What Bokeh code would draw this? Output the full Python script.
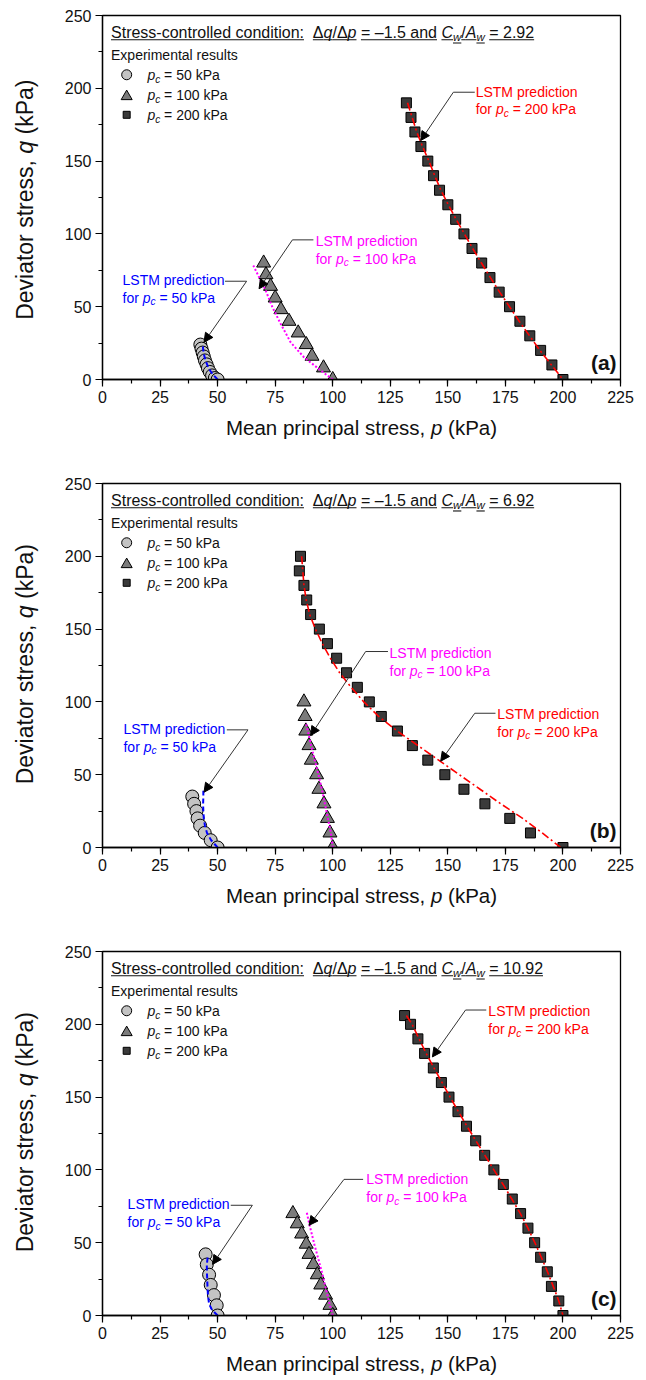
import math
from bokeh.plotting import figure
from bokeh.models import Range1d, SingleIntervalTicker, Label, Arrow, NormalHead
from bokeh.layouts import column, row
from bokeh.embed import file_html
from bokeh.resources import INLINE

FONT = "Liberation Sans"

# ---------------- data ----------------
# Panel (a): Cw/Aw = 2.92
a_exp50_p = [42.5, 43.0, 43.5, 44.0, 44.5, 45.2, 45.8, 46.6, 47.6, 48.8, 50.0]
a_exp50_q = [24.0, 21.2, 18.5, 15.8, 13.1, 10.4, 7.8, 5.2, 2.8, 1.0, 0.0]
a_lstm50_p = [50.0, 48.2, 46.8, 45.8, 45.0, 44.4, 44.0, 43.7, 43.6]
a_lstm50_q = [0.0, 3.0, 6.0, 9.0, 12.0, 15.0, 18.0, 21.0, 24.0]
a_exp100_p = [70.0, 71.0, 73.0, 75.0, 77.5, 81.0, 85.0, 88.5, 91.0, 96.0, 100.0]
a_exp100_q = [80, 72, 64, 56, 48, 40, 32, 24, 16, 8, 0]
a_lstm100_p = [100.0, 94.8, 87.5, 81.7, 77.4, 73.8, 70.9, 68.0, 65.5]
a_lstm100_q = [0.0, 6.2, 15.3, 25.6, 38.2, 49.7, 61.1, 70.3, 78.3]
a_exp200_p = [132.0, 134.0, 135.7, 138.3, 141.3, 143.8, 146.4, 150.0, 153.4, 157.0,
              160.5, 164.7, 168.3, 172.3, 176.8, 181.3, 185.6, 190.3, 195.2, 200.0]
a_exp200_q = [190, 180, 170, 160, 150, 140, 130, 120, 110, 100,
              90, 80, 70, 60, 50, 40, 30, 20, 10, 0]
a_lstm200_p = [132.5, 134.5, 136.5, 139.0, 141.8, 144.3, 147.0, 150.2, 153.6, 157.2,
               160.8, 164.6, 168.5, 172.5, 176.8, 181.0, 185.5, 190.0, 195.0, 200.0]
a_lstm200_q = a_exp200_q

# Panel (b): Cw/Aw = 6.92
b_exp50_p = [39.0, 39.8, 40.8, 41.3, 42.4, 44.4, 47.0, 50.0]
b_exp50_q = [35, 30, 25, 20, 15, 10, 5, 0]
b_lstm50_p = [50.0, 47.2, 45.4, 44.5, 44.0, 43.8, 43.7, 43.8, 43.8]
b_lstm50_q = [0, 5, 10, 15, 20, 25, 30, 35, 39]
b_exp100_p = [87.5, 88.0, 88.3, 89.7, 90.7, 93.0, 94.0, 96.2, 97.7, 98.8, 100.0]
b_exp100_q = [100, 90, 80, 70, 60, 50, 40, 30, 20, 10, 0]
b_lstm100_p = [100.0, 99.2, 97.9, 96.6, 95.3, 93.8, 92.2, 90.6, 89.2, 88.3]
b_lstm100_q = [0, 10, 20, 30, 40, 50, 60, 70, 80, 86]
b_exp200_p = [86.0, 85.5, 87.5, 88.7, 90.4, 94.2, 97.7, 101.7, 106.0, 110.7, 115.9,
              121.1, 128.1, 134.6, 141.3, 148.7, 157.0, 166.1, 176.9, 185.9, 200.0]
b_exp200_q = [200, 190, 180, 170, 160, 150, 140, 130, 120, 110, 100,
              90, 80, 70, 60, 50, 40, 30, 20, 10, 0]
b_lstm200_p = [86.5, 87.0, 87.5, 88.5, 90.0, 92.5, 95.5, 99.0, 103.0, 108.0, 113.5,
               120.0, 128.0, 137.0, 146.0, 155.0, 164.0, 173.0, 182.5, 191.0, 199.0]
b_lstm200_q = b_exp200_q

# Panel (c): Cw/Aw = 10.92
c_exp50_p = [44.8, 45.3, 46.3, 47.0, 48.4, 49.6, 50.0]
c_exp50_q = [42, 35, 28, 21, 14, 7, 0]
c_lstm50_p = [50.0, 47.5, 46.3, 45.8, 45.6, 45.4, 45.3, 45.7]
c_lstm50_q = [0, 4, 8, 14, 20, 28, 35, 40]
c_exp100_p = [82.7, 84.6, 86.5, 88.5, 89.7, 91.6, 93.3, 94.8, 96.9, 98.8, 100.0]
c_exp100_q = [70, 63, 56, 49, 42, 35, 28, 21, 14, 7, 0]
c_lstm100_p = [100.0, 98.8, 97.7, 96.6, 95.6, 94.4, 93.2, 92.0, 90.9, 89.8, 88.7]
c_lstm100_q = [0, 7, 14, 21, 28, 35, 42, 49, 56, 63, 71]
c_exp200_p = [131.2, 133.8, 137.0, 139.9, 143.7, 147.2, 150.5, 154.4, 158.1, 162.1, 166.0,
              170.0, 174.1, 178.0, 181.6, 184.8, 187.7, 190.3, 193.2, 195.0, 198.2, 200.0]
c_exp200_q = [206, 200, 190, 180, 170, 160, 150, 140, 130, 120, 110,
              100, 90, 80, 70, 60, 50, 40, 30, 20, 10, 0]
c_lstm200_p = [132.0, 134.5, 137.5, 140.6, 144.0, 147.5, 151.0, 154.6, 158.3, 162.2, 166.1,
               170.0, 174.0, 177.8, 181.5, 184.8, 187.8, 190.6, 193.3, 195.8, 198.2, 200.0]
c_lstm200_q = c_exp200_q

ratios = ["2.92", "6.92", "10.92"]
panel_tags = ["(a)", "(b)", "(c)"]
x_ticks_interval = 25
y_ticks_interval = 50

# ---------------- text helpers ----------------
W = {' ': 278, '!': 278, '(': 333, ')': 333, ',': 278, '-': 333, '.': 278, '/': 278,
     ':': 278, '=': 584, '\u2013': 556, '\u0394': 668,
     'A': 667, 'C': 722, 'D': 722, 'E': 667, 'L': 556, 'M': 833, 'P': 667, 'S': 667, 'T': 611,
     'a': 556, 'b': 556, 'c': 500, 'd': 556, 'e': 556, 'f': 278, 'g': 556, 'h': 556,
     'i': 222, 'j': 222, 'k': 500, 'l': 222, 'm': 833, 'n': 556, 'o': 556, 'p': 556,
     'q': 556, 'r': 333, 's': 500, 't': 278, 'u': 556, 'v': 500, 'w': 722, 'x': 500,
     'y': 500, 'z': 500}
BASE_FIX = 0.35  # Label draws its alphabetic baseline this many em below the anchor


def tw(s, size):
    return sum(W.get(ch, 556) for ch in s) * size / 1000.0


def rich(p, x, y, pieces, size, color, x_off=0.0, y_off=0.0, angle=0.0, underline=False):
    off = 0.0
    segs = []
    for txt, st in pieces:
        fs = size * 0.72 if st == 's' else size
        style = 'italic' if st in ('i', 's') else ('bold' if st == 'b' else 'normal')
        dy = -size * 0.2 if st == 's' else 0.0
        core = txt.strip(' ')
        lead = len(txt) - len(txt.lstrip(' '))
        trail = len(txt) - len(txt.rstrip(' '))
        off += tw(' ' * lead, fs)
        if core:
            common = dict(x=x, y=y, text=core, text_font=FONT, text_font_size=f"{fs:.1f}px",
                          text_font_style=style, text_color=color, text_align="left",
                          text_baseline="alphabetic", text_line_height=1.0)
            if angle == 0:
                lab = Label(x_offset=x_off + off, y_offset=y_off + dy + BASE_FIX * fs, **common)
            else:
                lab = Label(x_offset=x_off - BASE_FIX * fs, y_offset=y_off + off, angle=angle, **common)
            p.add_layout(lab)
            w = tw(core, fs)
            if underline:
                segs.append((off, off + w, dy - 2.0))
            off += w
        off += tw(' ' * trail, fs)
    return off, segs


FRAME_W = 518.0
FRAME_H = 364.0
KX = FRAME_W / 225.0
KY = FRAME_H / 250.0
YT_W = 40
LEFT = 102
RIGHT = 18
MAIN_BOTTOM = 30

RED, MAG, BLUE = "#ff0000", "#ff00ff", "#0000ff"

# annotation layout: (text x, first baseline y, leader start, corner, tip)
ann_layout = [
    {50: (8.7, 65.2, (53.2, 67.5), (62.6, 67.5), (44.1, 25.6)),
     100: (92.6, 92.0, (91.6, 95.9), (82.5, 95.9), (68.0, 62.3)),
     200: (162.1, 194.4, (161.7, 197.3), (152.4, 197.3), (138.2, 164.1))},
    {50: (9.1, 78.3, (54.0, 80.8), (63.2, 80.8), (44.1, 38.0)),
     100: (124.7, 130.5, (124.0, 134.6), (114.3, 134.6), (90.4, 76.9)),
     200: (171.5, 88.6, (170.7, 92.2), (161.7, 92.2), (146.9, 59.3))},
    {50: (10.9, 72.9, (55.7, 75.7), (65.1, 75.7), (47.8, 35.1)),
     100: (114.6, 90.1, (113.2, 93.5), (104.9, 93.5), (89.7, 61.9)),
     200: (167.6, 205.6, (166.7, 209.8), (157.7, 209.8), (143.3, 177.6))},
]

series = [
    ((a_exp50_p, a_exp50_q), (a_lstm50_p, a_lstm50_q), (a_exp100_p, a_exp100_q),
     (a_lstm100_p, a_lstm100_q), (a_exp200_p, a_exp200_q), (a_lstm200_p, a_lstm200_q)),
    ((b_exp50_p, b_exp50_q), (b_lstm50_p, b_lstm50_q), (b_exp100_p, b_exp100_q),
     (b_lstm100_p, b_lstm100_q), (b_exp200_p, b_exp200_q), (b_lstm200_p, b_lstm200_q)),
    ((c_exp50_p, c_exp50_q), (c_lstm50_p, c_lstm50_q), (c_exp100_p, c_exp100_q),
     (c_lstm100_p, c_lstm100_q), (c_exp200_p, c_exp200_q), (c_lstm200_p, c_lstm200_q)),
]

MK = {
    50: dict(marker="circle", size=13, fill_color="#c3c3c3"),
    100: dict(marker="triangle", size=14, fill_color="#7b7b7b"),
    200: dict(marker="square", size=10, fill_color="#3a3a3a"),
}
LSTM_STYLE = {
    50: dict(line_color=BLUE, line_dash="5 3", line_width=2),
    100: dict(line_color=MAG, line_dash="2 2", line_width=2),
    200: dict(line_color=RED, line_dash="8 3 2 3", line_width=1.6),
}
ANN_COLOR = {50: BLUE, 100: MAG, 200: RED}


def blank_fig(w, h):
    f = figure(width=w, height=h, output_backend="svg", toolbar_location=None,
               x_range=Range1d(0, w), y_range=Range1d(0, h),
               x_axis_location=None, y_axis_location=None,
               min_border=0, min_border_left=0, min_border_right=0,
               min_border_top=0, min_border_bottom=0)
    f.xgrid.visible = False
    f.ygrid.visible = False
    f.outline_line_color = None
    f.background_fill_color = "white"
    f.border_fill_color = "white"
    return f


def make_panel(i, top, xt_h):
    main_h = top + int(FRAME_H) + MAIN_BOTTOM
    p = figure(width=LEFT - YT_W + int(FRAME_W) + RIGHT, height=main_h, output_backend="svg",
               toolbar_location=None, x_range=Range1d(0, 225), y_range=Range1d(0, 250),
               min_border_left=LEFT - YT_W, min_border_right=RIGHT, min_border_top=top,
               min_border_bottom=MAIN_BOTTOM)
    p.xgrid.visible = False
    p.ygrid.visible = False
    p.outline_line_color = "black"
    p.outline_line_width = 1.3
    p.background_fill_color = "white"
    p.border_fill_color = "white"
    p.xaxis.ticker = SingleIntervalTicker(interval=x_ticks_interval, num_minor_ticks=2)
    p.yaxis.ticker = SingleIntervalTicker(interval=y_ticks_interval, num_minor_ticks=2)
    for ax in (p.xaxis, p.yaxis):
        ax.axis_line_color = "black"
        ax.axis_line_width = 1.3
        ax.major_tick_line_color = "black"
        ax.minor_tick_line_color = "black"
        ax.major_tick_line_width = 1.2
        ax.minor_tick_line_width = 1.2
        ax.major_tick_in = 0
        ax.major_tick_out = 7
        ax.minor_tick_in = 0
        ax.minor_tick_out = 4
        ax.major_label_text_font = FONT
        ax.major_label_text_font_size = "16px"
        ax.major_label_text_color = "#111111"
        ax.major_label_standoff = 4

    data = series[i]
    for k, pc in enumerate((50, 100, 200)):
        xs, ys = data[2 * k]
        p.scatter(xs, ys, line_color="black", line_width=1, **MK[pc])
    for k, pc in enumerate((50, 100, 200)):
        xs, ys = data[2 * k + 1]
        p.line(xs, ys, **LSTM_STYLE[pc])

    # header
    pieces = [("Stress-controlled condition:", 'n'), (" ", 'n'), ("\u0394", 'n'), ("q", 'i'),
              ("/\u0394", 'n'), ("p", 'i'), (" = \u20131.5 and ", 'n'), ("C", 'i'), ("w", 's'),
              ("/", 'n'), ("A", 'i'), ("w", 's'), (" = " + ratios[i], 'n')]
    hx, hy = 3.7, 234.7
    _, segs = rich(p, hx, hy, pieces, 16, "#111111", underline=True)
    for s0, s1, dy in segs:
        p.segment(x0=[hx + s0 / KX], y0=[hy + dy / KY], x1=[hx + s1 / KX], y1=[hy + dy / KY],
                  line_color="#111111", line_width=1.1)

    # legend
    rich(p, 3.7, 219.4, [("Experimental results", 'n')], 14, "#111111")
    leg_rows = [(50, 209.3, 205.8), (100, 194.4, 192.1), (200, 181.8, 178.4)]
    for pc, my, ty in leg_rows:
        m = dict(MK[pc])
        m["size"] = m["size"] - 3
        p.scatter([10.5], [my], line_color="black", line_width=1, **m)
        rich(p, 19.5, ty, [("p", 'i'), ("c", 's'), (f" = {pc} kPa", 'n')], 14, "#111111")

    # LSTM annotations
    for pc in (50, 100, 200):
        tx, ty, st, cn, tip = ann_layout[i][pc]
        col = ANN_COLOR[pc]
        rich(p, tx, ty, [("LSTM prediction", 'n')], 14, col)
        rich(p, tx, ty - 12.3, [("for ", 'n'), ("p", 'i'), ("c", 's'), (f" = {pc} kPa", 'n')], 14, col)
        p.segment(x0=[st[0]], y0=[st[1]], x1=[cn[0]], y1=[cn[1]], line_color="#333333", line_width=1)
        p.add_layout(Arrow(x_start=cn[0], y_start=cn[1], x_end=tip[0], y_end=tip[1],
                           line_color="#333333", line_width=1,
                           end=NormalHead(size=9, fill_color="black", line_color="black")))

    p.add_layout(Label(x=223.3, y=6.5, y_offset=BASE_FIX * 21, text=panel_tags[i], text_font=FONT,
                       text_font_size="21px", text_font_style="bold", text_align="right",
                       text_baseline="alphabetic", text_line_height=1.0, text_color="#111111"))

    # y-axis title (separate narrow canvas to the left)
    yf = blank_fig(YT_W, main_h)
    yt = [("Deviator stress, ", 'n'), ("q", 'i'), (" (kPa)", 'n')]
    wy = sum(tw(t, 23) for t, _ in yt)
    rich(yf, 33, main_h - (top + FRAME_H / 2) - 10, yt, 23, "#111111", y_off=-wy / 2, angle=math.pi / 2)

    # x-axis title (separate canvas below)
    xf = blank_fig(LEFT + int(FRAME_W) + RIGHT, xt_h)
    xt = [("Mean principal stress, ", 'n'), ("p", 'i'), (" (kPa)", 'n')]
    wx = sum(tw(t, 20.5) for t, _ in xt)
    rich(xf, LEFT + FRAME_W / 2, xt_h - (55 - MAIN_BOTTOM), xt, 20.5, "#111111", x_off=-wx / 2)

    return column(row(yf, p), xf)


panels = [make_panel(0, 15, 97 - MAIN_BOTTOM),
          make_panel(1, 7, 97 - MAIN_BOTTOM),
          make_panel(2, 7, 35)]
layout = column(*panels)
open("out.html", "w").write(file_html(layout, INLINE))
